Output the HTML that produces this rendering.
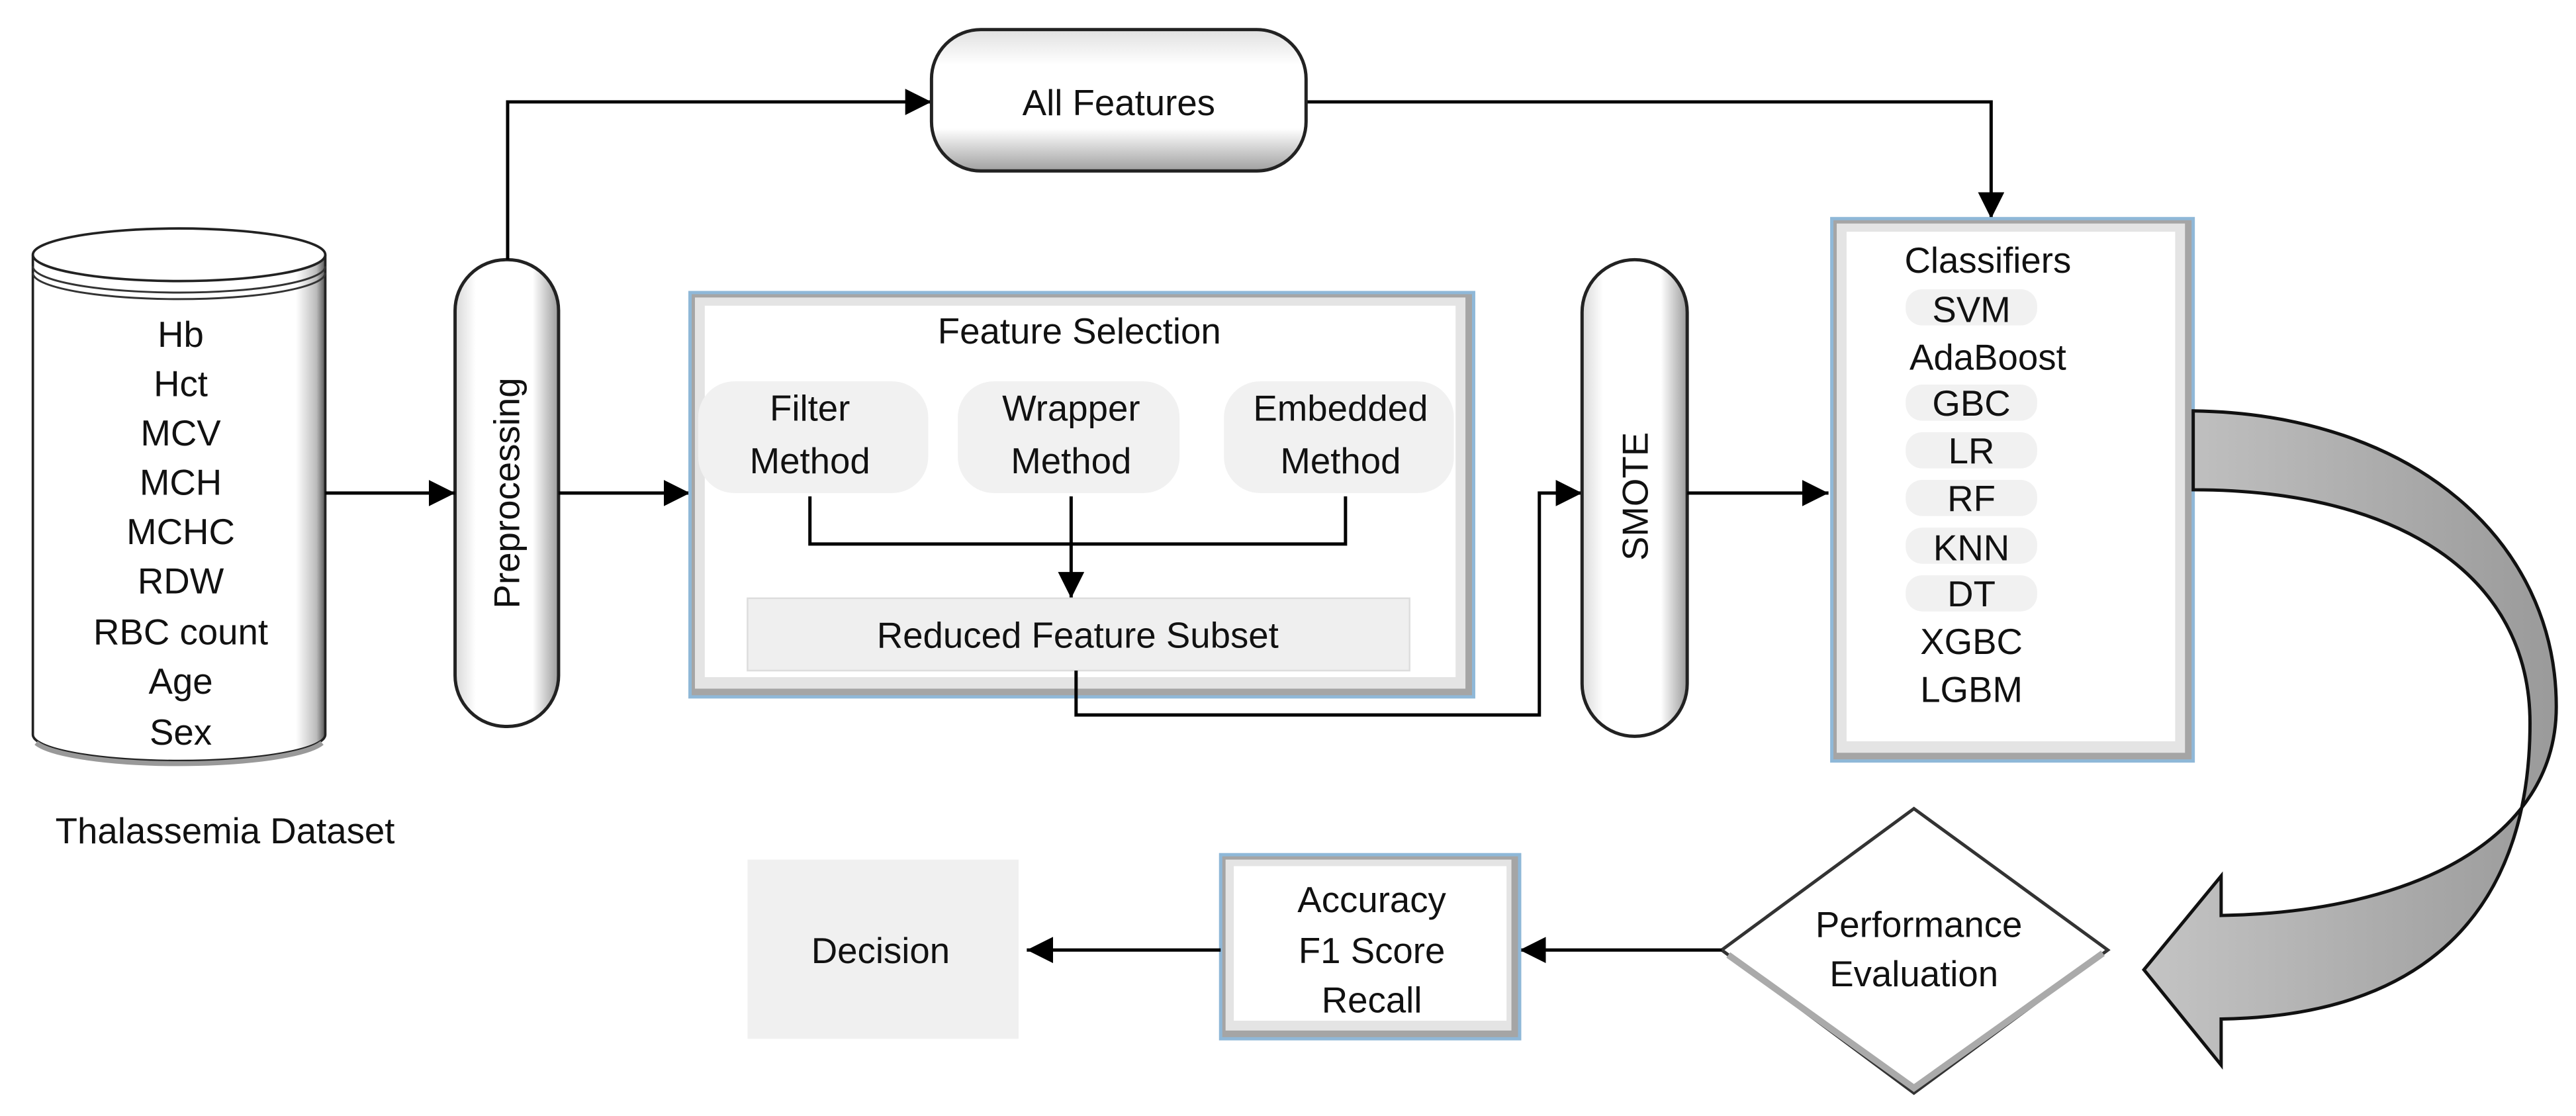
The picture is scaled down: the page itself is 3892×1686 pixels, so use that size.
<!DOCTYPE html>
<html><head><meta charset="utf-8"><style>
html,body{margin:0;padding:0;background:#fff;}
svg{display:block;}
text{font-family:"Liberation Sans",Arial,sans-serif;fill:#111;}
</style></head><body>
<svg width="3892" height="1686" viewBox="0 0 1568 679" preserveAspectRatio="none" xmlns="http://www.w3.org/2000/svg">
<defs>
<marker id="ah" viewBox="0 0 10 10" refX="10" refY="5" markerWidth="16" markerHeight="16" markerUnits="userSpaceOnUse" orient="auto">
<path d="M0,0 L10,5 L0,10 z" fill="#000"/></marker>
<linearGradient id="pillg" x1="0" y1="0" x2="1" y2="0">
<stop offset="0" stop-color="#d8d8d8"/><stop offset="0.2" stop-color="#fff"/><stop offset="0.75" stop-color="#fff"/><stop offset="1" stop-color="#9a9a9a"/></linearGradient>
<linearGradient id="pillh" x1="0" y1="0" x2="0" y2="1">
<stop offset="0" stop-color="#e0e0e0"/><stop offset="0.25" stop-color="#fff"/><stop offset="0.7" stop-color="#fff"/><stop offset="1" stop-color="#a0a0a0"/></linearGradient>
<linearGradient id="cyl" x1="0" y1="0" x2="1" y2="0">
<stop offset="0" stop-color="#fff"/><stop offset="0.9" stop-color="#fff"/><stop offset="0.97" stop-color="#bbb"/><stop offset="1" stop-color="#555"/></linearGradient>
<linearGradient id="bandg" x1="0" y1="0" x2="1" y2="0">
<stop offset="0" stop-color="#c4c4c4"/><stop offset="1" stop-color="#9a9a9a"/></linearGradient>
</defs>

<!-- Cylinder -->
<path d="M20,155 L20,447 A89,16 0 0 0 198,447 L198,155" fill="url(#cyl)" stroke="#222" stroke-width="1.5"/>
<path d="M20,162 A89,16 0 0 0 198,162" fill="none" stroke="#333" stroke-width="1.2"/>
<path d="M20,166 A89,16 0 0 0 198,166" fill="none" stroke="#333" stroke-width="1.2"/>
<ellipse cx="109" cy="155" rx="89" ry="16" fill="#fff" stroke="#222" stroke-width="1.5"/>
<path d="M22,452 A89,16 0 0 0 196,452" fill="none" stroke="#999" stroke-width="3"/>
<g font-size="22" text-anchor="middle">
<text x="110" y="211">Hb</text><text x="110" y="241">Hct</text><text x="110" y="271">MCV</text>
<text x="110" y="301">MCH</text><text x="110" y="331">MCHC</text><text x="110" y="361">RDW</text>
<text x="110" y="392">RBC count</text><text x="110" y="422">Age</text><text x="110" y="453">Sex</text>
</g>
<text x="137" y="513" font-size="22" text-anchor="middle">Thalassemia Dataset</text>

<!-- Preprocessing pill -->
<rect x="277" y="158" width="63" height="284" rx="31" fill="url(#pillg)" stroke="#222" stroke-width="2"/>
<text transform="translate(316,300) rotate(-90)" font-size="22" text-anchor="middle">Preprocessing</text>

<!-- connectors -->
<line x1="198" y1="300" x2="277" y2="300" stroke="#000" stroke-width="2" marker-end="url(#ah)"/>
<line x1="340" y1="300" x2="420" y2="300" stroke="#000" stroke-width="2" marker-end="url(#ah)"/>
<polyline points="309,158 309,62 567,62" fill="none" stroke="#000" stroke-width="2" marker-end="url(#ah)"/>
<polyline points="795,62 1212,62 1212,133" fill="none" stroke="#000" stroke-width="2" marker-end="url(#ah)"/>

<!-- All Features -->
<rect x="567" y="18" width="228" height="86" rx="30" fill="url(#pillh)" stroke="#222" stroke-width="2"/>
<text x="681" y="70" font-size="22" text-anchor="middle">All Features</text>

<!-- Feature Selection box -->
<rect x="420" y="178" width="477" height="246" fill="#a5a5a5" stroke="#8fb8d8" stroke-width="2"/>
<rect x="423" y="181" width="469" height="238" fill="#e4e4e4"/>
<rect x="429" y="186" width="457" height="226" fill="#fff"/>
<text x="657" y="209" font-size="22" text-anchor="middle">Feature Selection</text>
<rect x="425" y="232" width="140" height="68" rx="22" fill="#f1f1f1"/>
<rect x="583" y="232" width="135" height="68" rx="22" fill="#f1f1f1"/>
<rect x="745" y="232" width="140" height="68" rx="22" fill="#f1f1f1"/>
<g font-size="22" text-anchor="middle">
<text x="493" y="256">Filter</text><text x="493" y="288">Method</text>
<text x="652" y="256">Wrapper</text><text x="652" y="288">Method</text>
<text x="816" y="256">Embedded</text><text x="816" y="288">Method</text>
</g>
<polyline points="493,302 493,331 819,331 819,302" fill="none" stroke="#000" stroke-width="2"/>
<line x1="652" y1="302" x2="652" y2="364" stroke="#000" stroke-width="2" marker-end="url(#ah)"/>
<rect x="455" y="364" width="403" height="44" fill="#efefef" stroke="#ddd" stroke-width="1"/>
<text x="656" y="394" font-size="22" text-anchor="middle">Reduced Feature Subset</text>
<polyline points="655,408 655,435 937,435 937,300 963,300" fill="none" stroke="#000" stroke-width="2" marker-end="url(#ah)"/>

<!-- SMOTE -->
<rect x="963" y="158" width="64" height="290" rx="32" fill="url(#pillg)" stroke="#222" stroke-width="2"/>
<text transform="translate(1003,302) rotate(-90)" font-size="22" text-anchor="middle">SMOTE</text>
<line x1="1027" y1="300" x2="1113" y2="300" stroke="#000" stroke-width="2" marker-end="url(#ah)"/>

<!-- Classifiers -->
<rect x="1115" y="133" width="220" height="330" fill="#a5a5a5" stroke="#8fb8d8" stroke-width="2"/>
<rect x="1118" y="136" width="212" height="322" fill="#e4e4e4"/>
<rect x="1124" y="141" width="200" height="310" fill="#fff"/>
<g fill="#f1f1f1">
<rect x="1160" y="176" width="80" height="22" rx="10"/>
<rect x="1160" y="234" width="80" height="22" rx="10"/>
<rect x="1160" y="263" width="80" height="22" rx="10"/>
<rect x="1160" y="292" width="80" height="22" rx="10"/>
<rect x="1160" y="321" width="80" height="22" rx="10"/>
<rect x="1160" y="350" width="80" height="22" rx="10"/>
</g>
<g font-size="22" text-anchor="middle">
<text x="1210" y="166">Classifiers</text>
<text x="1200" y="196">SVM</text><text x="1210" y="225">AdaBoost</text>
<text x="1200" y="253">GBC</text><text x="1200" y="282">LR</text>
<text x="1200" y="311">RF</text><text x="1200" y="341">KNN</text>
<text x="1200" y="369">DT</text><text x="1200" y="398">XGBC</text>
<text x="1200" y="427">LGBM</text>
</g>

<!-- Curved arrow -->
<path d="M1335,250 C1470,252 1556,330 1556,430 C1556,510 1470,555 1352,557 L1352,533 L1305,590 L1352,648 L1352,620 C1490,618 1540,540 1540,440 C1540,350 1460,298 1335,298 Z" fill="url(#bandg)" stroke="#111" stroke-width="2"/>

<!-- Diamond -->
<polygon points="1048,578 1165,492 1283,578 1165,665" fill="#fff" stroke="#333" stroke-width="2"/>
<polyline points="1052,581 1165,662 1280,580" fill="none" stroke="#aaa" stroke-width="4"/>
<text x="1168" y="570" font-size="22" text-anchor="middle">Performance</text>
<text x="1165" y="600" font-size="22" text-anchor="middle">Evaluation</text>
<line x1="1048" y1="578" x2="925" y2="578" stroke="#000" stroke-width="2" marker-end="url(#ah)"/>

<!-- Accuracy box -->
<rect x="743" y="520" width="182" height="112" fill="#a5a5a5" stroke="#8fb8d8" stroke-width="2"/>
<rect x="746" y="523" width="174" height="104" fill="#e4e4e4"/>
<rect x="751" y="527" width="166" height="94" fill="#fff"/>
<g font-size="22" text-anchor="middle">
<text x="835" y="555">Accuracy</text><text x="835" y="586">F1 Score</text><text x="835" y="616">Recall</text>
</g>
<line x1="743" y1="578" x2="625" y2="578" stroke="#000" stroke-width="2" marker-end="url(#ah)"/>

<!-- Decision -->
<rect x="455" y="523" width="165" height="109" fill="#f0f0f0"/>
<text x="536" y="586" font-size="22" text-anchor="middle">Decision</text>
</svg>
</body></html>
